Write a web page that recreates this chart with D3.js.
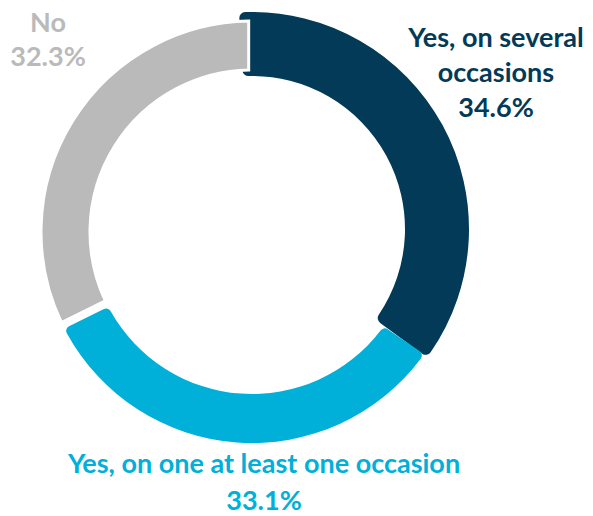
<!DOCTYPE html>
<html>
<head>
<meta charset="utf-8">
<script src="https://cdn.jsdelivr.net/npm/d3@7/dist/d3.min.js"></script>
<style>
  html, body { margin: 0; padding: 0; background: #fff; }
  svg { display: block; }
  text { font-family: Lato, "Open Sans", sans-serif; font-weight: 700; }
</style>
</head>
<body>
<svg id="chart" width="593" height="516"></svg>
<script>
// Survey answers, in clockwise order from twelve o'clock
const categories = ["Yes, on several occasions", "Yes, on one at least one occasion", "No"];
const values = [34.6, 33.1, 32.3];
const colors = ["#023a57", "#00b0d9", "#bababa"];
// Label lines for each answer (category text split over lines, then the share)
const labelLines = [
  ["Yes, on several", "occasions", "34.6%"],
  ["Yes, on one at least one occasion", "33.1%"],
  ["No", "32.3%"]
];

const width = 593, height = 516;
const cx = 252, cy = 232;
const outerR = 211, innerR = 162;

const svg = d3.select("#chart");
const g = svg.append("g").attr("transform", `translate(${cx},${cy})`);

const pie = d3.pie().sort(null).value(d => d).padAngle(0.025);
const arcs = pie(values);

const arc = d3.arc().innerRadius(innerR).outerRadius(outerR);

// Highlighted first slice: a thicker, slightly lifted band with rounded corners
// that sits underneath its neighbours.
const heroArc = d3.arc()
  .innerRadius(innerR - 9)
  .outerRadius(outerR + 6)
  .cornerRadius(6);
const hero = arcs[0];
g.append("path")
  .attr("transform", "translate(0,-3)")
  .attr("d", heroArc({ startAngle: hero.startAngle - 0.06, endAngle: hero.endAngle + 0.03 }))
  .attr("fill", colors[0]);

// Second slice: rounded corners, laid over the highlighted band
const roundArc = d3.arc().innerRadius(innerR).outerRadius(outerR).cornerRadius(5);
g.append("path")
  .attr("d", roundArc(arcs[1]))
  .attr("fill", colors[1]);

// Third slice: outlined in white so it separates cleanly from both neighbours
g.append("path")
  .attr("d", arc(arcs[2]))
  .attr("fill", colors[2])
  .attr("stroke", "#fff")
  .attr("stroke-width", 3)
  .attr("stroke-linejoin", "miter");

// Labels
const fontSize = 27;
const labelAnchors = [
  { x: 496, y: 47, step: 35 },
  { x: 264, y: 473, step: 37 },
  { x: 48, y: 32, step: 34 }
];
labelLines.forEach((lines, i) => {
  const a = labelAnchors[i];
  const t = svg.append("text")
    .attr("text-anchor", "middle")
    .attr("fill", colors[i])
    .attr("font-size", fontSize);
  lines.forEach((line, j) => {
    t.append("tspan")
      .attr("x", a.x)
      .attr("y", a.y + j * a.step)
      .text(line);
  });
});
</script>
</body>
</html>
